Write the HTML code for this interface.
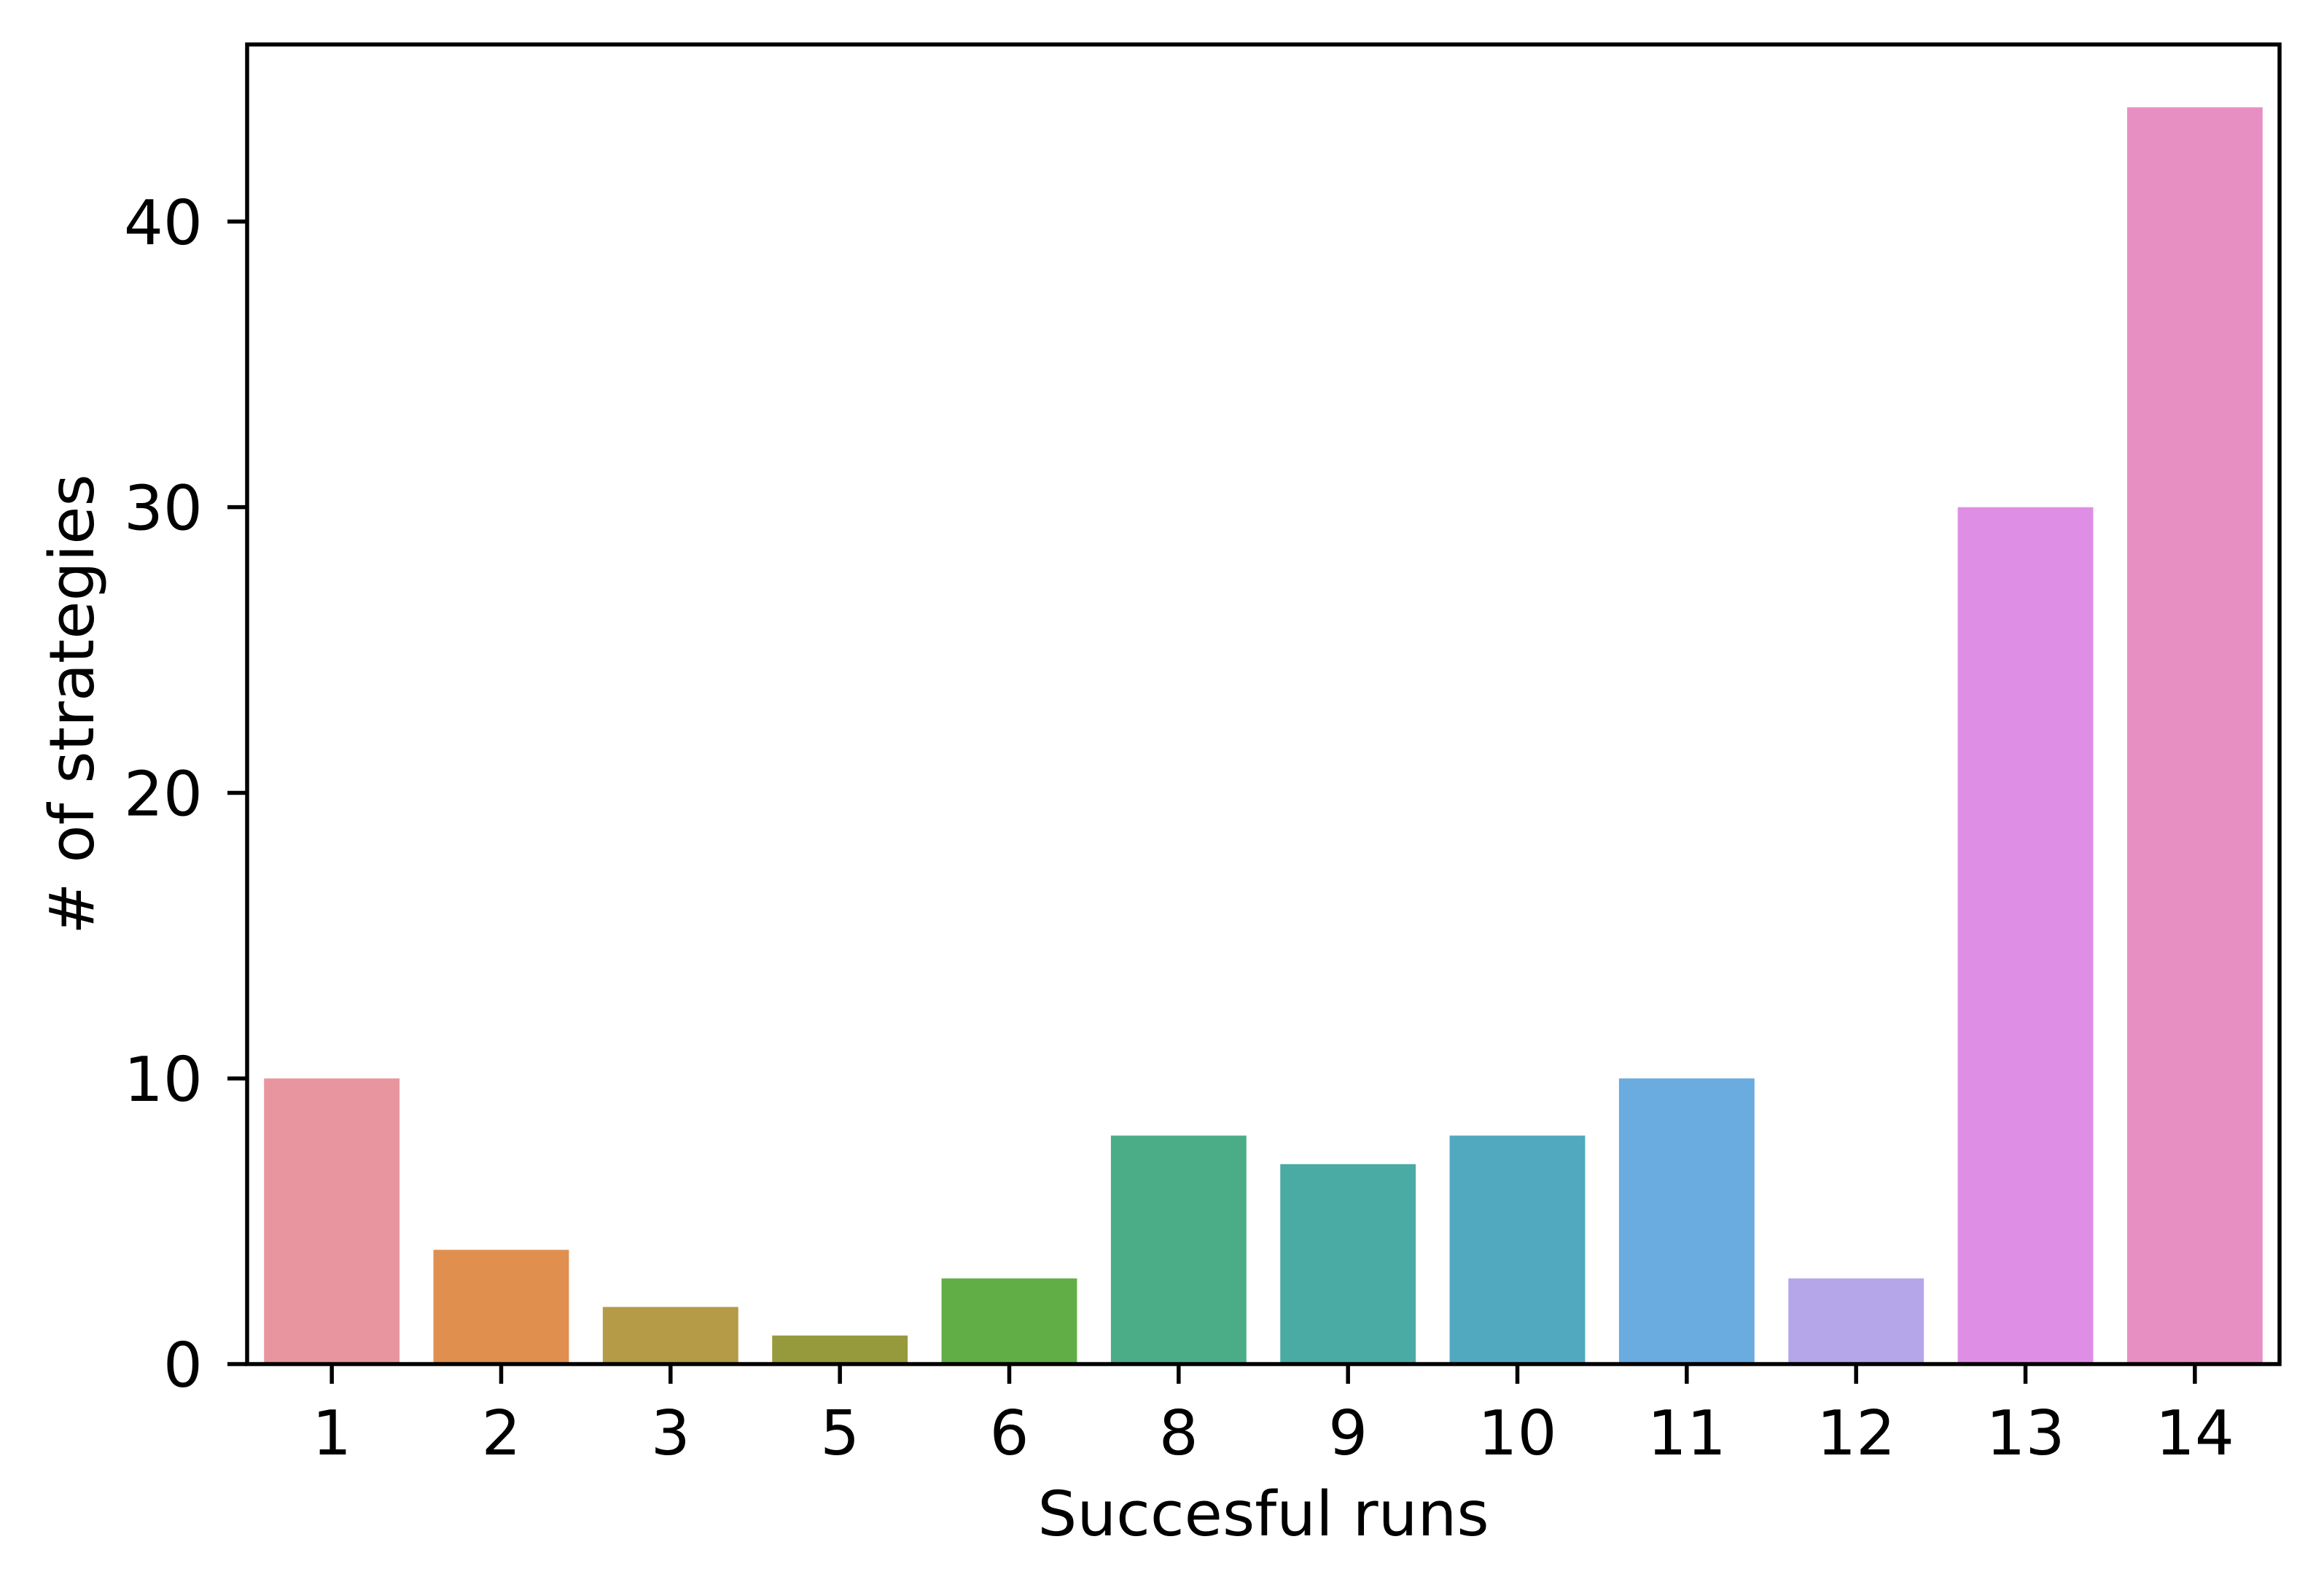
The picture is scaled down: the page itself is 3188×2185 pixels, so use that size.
<!DOCTYPE html>
<html><head><meta charset="utf-8">
<style>
html,body{margin:0;padding:0;background:#fff;}
svg{display:block;font-family:"DejaVu Sans","Liberation Sans",sans-serif;}
</style></head>
<body>
<svg id="chart" width="3188" height="2185" viewBox="0 0 3188 2185" xmlns="http://www.w3.org/2000/svg">
<rect x="0" y="0" width="3188" height="2185" fill="#fff"/>
<g id="bars"></g>
<g id="axes"></g>
</svg>
<script>
const categories = ["1","2","3","5","6","8","9","10","11","12","13","14"];
const values = [10,4,2,1,3,8,7,8,10,3,30,44];
const colors = ["#e8959f","#e08f4f","#b59a47","#979a3c","#61ae47","#4bad88","#4aaba5","#50a9bf","#6aabe0","#b5a5e9","#df8ee6","#e78fc2"];
const yTicks = [0,10,20,30,40];

const L=339, R=3127, T=61, B=1871, yMax=46.2;
const NS="http://www.w3.org/2000/svg";
const n=categories.length;
const xs = i => L + (i+0.5)*(R-L)/n;
const ys = v => B - v/yMax*(B-T);
const bw = 0.8*(R-L)/n;
const bars=document.getElementById('bars');
const axes=document.getElementById('axes');
function mk(tag, attrs, parent){const e=document.createElementNS(NS,tag);for(const k in attrs)e.setAttribute(k,attrs[k]);parent.appendChild(e);return e;}

values.forEach((v,i)=>{
  const r=mk('rect',{x:xs(i)-bw/2,y:ys(v),width:bw,height:B-ys(v),fill:colors[i]},bars);
  
  
});
categories.forEach((c,i)=>{
  const t=mk('line',{x1:xs(i),x2:xs(i),y1:B,y2:B+27,stroke:'#000','stroke-width':5.5},axes);
  
  
  const tx=mk('text',{x:xs(i),y:1995,'font-size':85,'text-anchor':'middle',fill:'#000'},axes);
  tx.textContent=c;
  
  
});
yTicks.forEach(v=>{
  const t=mk('line',{x1:L-27,x2:L,y1:ys(v),y2:ys(v),stroke:'#000','stroke-width':5.5},axes);
  
  
  const tx=mk('text',{x:278,y:ys(v)+31,'font-size':85,'text-anchor':'end',fill:'#000'},axes);
  tx.textContent=v;
  
  
});
const frame=mk('rect',{x:L,y:T,width:R-L,height:B-T,fill:'none',stroke:'#000','stroke-width':5.5},axes);


const xt=mk('text',{x:(L+R)/2,y:2106,'font-size':85,'text-anchor':'middle',fill:'#000'},axes);
xt.textContent='Succesful runs';


const yt=mk('text',{x:0,y:0,'font-size':85,'text-anchor':'middle',fill:'#000',transform:'translate(128,966) rotate(-90)'},axes);
yt.textContent='# of strategies';


</script>
</body></html>
